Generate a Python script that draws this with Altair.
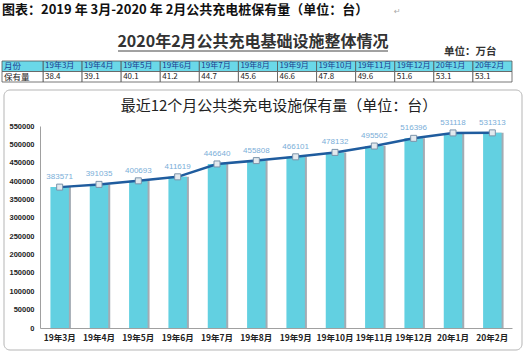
import altair as alt
import pandas as pd

# ---- data ----
months = ["19年3月", "19年4月", "19年5月", "19年6月", "19年7月", "19年8月",
          "19年9月", "19年10月", "19年11月", "19年12月", "20年1月", "20年2月"]
counts = [383571, 391035, 400693, 411619, 446640, 455808,
          466101, 478132, 495502, 516396, 531118, 531313]
table_values = [38.4, 39.1, 40.1, 41.2, 44.7, 45.6, 46.6, 47.8, 49.6, 51.6, 53.1, 53.1]
row_labels = ["月份", "保有量"]
y_ticks = [0, 50000, 100000, 150000, 200000, 250000, 300000,
           350000, 400000, 450000, 500000, 550000]

main_title = "图表：2019 年 3月-2020 年 2月公共充电桩保有量（单位：台）"
sub_title = "2020年2月公共充电基础设施整体情况"
unit_text = "单位：万台"
chart_title = "最近12个月公共类充电设施保有量（单位：台）"

CJK = "Noto Sans CJK SC"
BAR = "#62d0e1"
HEAD = "#6ad8e8"

main_df = pd.DataFrame({"month": months, "count": counts})
table_df = pd.DataFrame({
    "month": months * 2,
    "row": [row_labels[0]] * 12 + [row_labels[1]] * 12,
    "text": months + [f"{v:.1f}" for v in table_values],
})
row_df = pd.DataFrame({"row": row_labels})
one = pd.DataFrame({"a": [0]})

# ---- decorations ----
box = alt.Chart(one).mark_rect(
    fillOpacity=0, stroke="#b5b5b5", strokeWidth=1, cornerRadius=6
).encode(x=alt.value(-36), x2=alt.value(482), y=alt.value(-36), y2=alt.value(224))

t1 = alt.Chart(one).mark_text(
    align="left", baseline="middle", font=CJK, fontSize=13, fontWeight="bold", color="#111"
).encode(x=alt.value(-38), y=alt.value(-116), text=alt.value(main_title))

t1b = alt.Chart(one).mark_text(
    align="left", baseline="middle", font="DejaVu Sans", fontSize=8, color="#aaa"
).encode(x=alt.value(354), y=alt.value(-114), text=alt.value("↵"))

t2 = alt.Chart(one).mark_text(
    align="center", baseline="middle", font=CJK, fontSize=16, fontWeight="bold", color="#333"
).encode(x=alt.value(213), y=alt.value(-84), text=alt.value(sub_title))

underline = alt.Chart(one).mark_rule(color="#444", strokeWidth=1).encode(
    x=alt.value(78), x2=alt.value(348), y=alt.value(-75))

t3 = alt.Chart(one).mark_text(
    align="left", baseline="middle", font=CJK, fontSize=10.5, fontWeight="bold", color="#333"
).encode(x=alt.value(404), y=alt.value(-74), text=alt.value(unit_text))

t4 = alt.Chart(one).mark_text(
    align="center", baseline="middle", font=CJK, fontSize=15, color="#222"
).encode(x=alt.value(239), y=alt.value(-20), text=alt.value(chart_title))

# ---- table ----
tscale_x = alt.Scale(range=[3, 472], paddingInner=0, paddingOuter=0)
ty = alt.Y("row:N", sort=row_labels,
           scale=alt.Scale(range=[-65, -44], paddingInner=0, paddingOuter=0), axis=None)

cells = alt.Chart(table_df).mark_rect(stroke="#555", strokeWidth=0.8).encode(
    x=alt.X("month:N", sort=months, scale=tscale_x, axis=None), y=ty,
    fill=alt.condition(alt.datum.row == row_labels[0], alt.value(HEAD), alt.value("white")),
)
cell_text = alt.Chart(table_df).mark_text(
    align="left", baseline="middle", dx=2, font=CJK, fontSize=8
).encode(
    x=alt.X("month:N", sort=months, bandPosition=0, scale=tscale_x, axis=None),
    y=ty, text="text:N",
    color=alt.condition(alt.datum.row == row_labels[0], alt.value("#1e3c8e"), alt.value("#222")),
)
row_cells = alt.Chart(row_df).mark_rect(stroke="#555", strokeWidth=0.8).encode(
    x=alt.value(-38), x2=alt.value(3), y=ty,
    fill=alt.condition(alt.datum.row == row_labels[0], alt.value(HEAD), alt.value("white")),
)
row_text = alt.Chart(row_df).mark_text(
    align="left", baseline="middle", font=CJK, fontSize=8.5
).encode(
    x=alt.value(-36), y=ty, text="row:N",
    color=alt.condition(alt.datum.row == row_labels[0], alt.value("#1e3c8e"), alt.value("#222")),
)
table = alt.layer(cells, row_cells, cell_text, row_text)

# ---- main chart ----
x = alt.X("month:N", sort=months,
          scale=alt.Scale(paddingInner=0, paddingOuter=0),
          axis=alt.Axis(title=None, labelAngle=0, ticks=False, labelFont=CJK,
                        labelFontWeight="bold", labelFontSize=8.5, labelPadding=5,
                        labelColor="#222", domainColor="#a0a0a0", grid=False))
y = alt.Y("count:Q", scale=alt.Scale(domain=[0, 550000], nice=False),
          axis=alt.Axis(values=y_ticks, title=None, ticks=False, format="d",
                        labelFont="Liberation Sans", labelFontSize=7.5,
                        labelFontWeight="bold", labelColor="#222", labelPadding=6,
                        gridDash=[3, 3], gridColor="#dedede", domainColor="#a0a0a0"))

base = alt.Chart(main_df).encode(x=x, y=y)
shadow = base.mark_bar(color="#a3abb3", xOffset=2, width=alt.RelativeBandSize(0.47))
bars = base.mark_bar(color=BAR, width=alt.RelativeBandSize(0.47))
line = base.mark_line(color="#1f5c9e", strokeWidth=2.5)
points = base.mark_square(size=36, fill="#e3e9ee", stroke="#7b93aa", strokeWidth=1, opacity=1)
labels = base.mark_text(dy=-10, fontSize=8, font="Liberation Sans", color="#7aaed8").encode(
    text=alt.Text("count:Q", format="d"))
main = alt.layer(shadow, bars, line, points, labels)

chart = alt.layer(box, t1, t1b, t2, underline, t3, t4, table, main).resolve_scale(
    x="independent", y="independent"
).properties(
    width=472, height=202,
    autosize=alt.AutoSizeParams(type="none"),
    padding={"left": 40, "top": 126, "right": 15, "bottom": 25},
    background="white",
).configure_view(stroke=None)

chart.save("out.html", embed_options={"renderer": "svg", "actions": False})
